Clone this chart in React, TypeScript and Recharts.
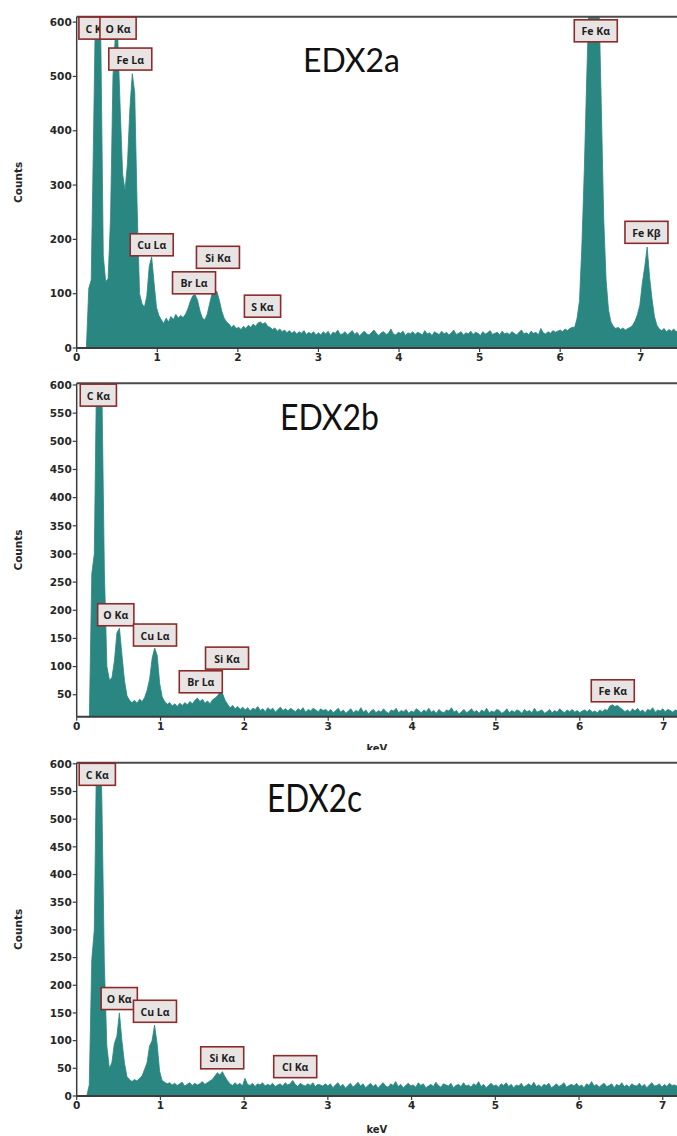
import React from 'react';
import { ComposedChart, Area, XAxis, YAxis, ReferenceLine, ReferenceDot } from 'recharts';

// Channel width of the spectra (keV); channel i sits at i * ENERGY_STEP_KEV
const ENERGY_STEP_KEV = 0.03;
const X_TICKS = [0, 1, 2, 3, 4, 5, 6, 7];

// ---------- EDX2a ----------
const COUNTS_2A = [
  0, 0, 0, 0, 0, 110, 125, 400, 700, 700,
  560, 170, 122, 128, 240, 500, 575, 570, 440, 320,
  290, 340, 440, 505, 470, 260, 100, 82, 75, 95,
  150, 168, 120, 75, 60, 52, 45, 55, 48, 58,
  52, 62, 55, 60, 56, 62, 72, 86, 96, 98,
  88, 68, 55, 52, 62, 82, 100, 106, 104, 88,
  68, 55, 48, 44, 38, 42, 36, 38, 34, 40,
  36, 42, 38, 44, 40, 46, 48, 44, 47, 40,
  38, 34, 37, 31, 35, 30, 33, 28, 32, 27,
  31, 26, 30, 27, 32, 25, 29, 26, 30, 24,
  28, 24, 30, 26, 31, 23, 29, 27, 33, 25,
  26, 30, 24, 28, 32, 25, 29, 22, 27, 31,
  26, 24, 29, 33, 27, 23, 28, 30, 25, 27,
  35, 26, 24, 29, 27, 31, 23, 28, 26, 30,
  25, 29, 27, 24, 32, 26, 28, 23, 30, 27,
  25, 31, 26, 29, 24, 28, 33, 25, 27, 30,
  24, 28, 26, 31, 25, 29, 27, 23, 30, 26,
  28, 32, 25, 27, 29, 24, 31, 26, 28, 25,
  30, 27, 24, 29, 33, 26, 28, 25, 31, 27,
  29, 24, 36, 28, 26, 30, 27, 32, 29, 31,
  33, 30, 35, 32, 36, 38,
  38, 55, 87, 190, 330, 500, 650, 720, 720, 700,
  650, 450, 240, 125, 70, 48, 40, 36, 38, 34,
  37, 33, 36, 38, 42, 50, 62, 80, 120, 150,
  186, 130, 90, 58, 42, 35, 32, 36, 30, 34,
  31, 35, 30, 33,
];
const Y_TICKS_2A = [0, 100, 200, 300, 400, 500, 600];
const TAGS_2A = ['C Kα', 'O Kα', 'Fe Lα', 'Cu Lα', 'Br Lα', 'Si Kα', 'S Kα', 'Fe Kα', 'Fe Kβ'];
const TAG_ENERGY_2A = [0.252, 0.513, 0.665, 0.931, 1.456, 1.753, 2.306, 6.442, 7.071];
const TAG_LEVEL_2A = [589, 589, 532, 190, 120, 167, 77, 584, 213];

// ---------- EDX2b ----------
const COUNTS_2B = [
  0, 0, 0, 0, 0, 0, 265, 300, 660, 680,
  600, 270, 100, 76, 80, 110, 160, 168, 120, 75,
  48, 40, 36, 40, 35, 42, 38, 45, 58, 78,
  115, 133, 120, 70, 46, 38, 33, 36, 30, 34,
  29, 35, 31, 36, 32, 38, 34, 40, 44, 38,
  42, 35, 39, 34, 41, 44, 48, 55, 52, 40,
  33, 27, 31, 25, 29, 24, 28,
  23, 27, 21, 26, 24, 29, 22, 25, 20, 27,
  23, 26, 19, 24, 28, 22, 25, 21, 26, 23,
  20, 25, 22, 27, 19, 24, 21, 26, 23, 20,
  25, 22, 24,
  20, 24, 18, 22, 26, 19, 23, 17, 21, 25,
  18, 22, 20, 27, 19, 23, 16, 21, 24, 18,
  22, 19, 25, 20, 17, 23, 21, 26, 18, 22,
  20, 24, 17, 21, 19, 25, 22, 18, 23, 20,
  26, 19, 22, 17, 24, 20, 18, 23, 21, 27,
  19, 22, 16, 20, 24, 18, 21, 25, 19, 22,
  17, 23, 20, 26, 18, 21, 19, 24, 22, 17,
  20, 25, 18, 22, 19, 23, 21, 17, 24, 20,
  22, 18, 26, 19, 21, 23, 17, 20, 24, 18,
  22, 19, 25, 21, 18, 23, 20, 24, 19, 22,
  18, 21, 23, 20, 24, 19,
  21, 18, 23, 20, 24, 22, 30, 32, 29, 31,
  27, 24, 20, 23, 19, 25, 21, 26, 20, 23,
  18, 24, 22, 27, 19, 23, 21, 25, 20, 24,
  22, 19, 23, 21,
];
const Y_TICKS_2B = [50, 100, 150, 200, 250, 300, 350, 400, 450, 500, 550, 600];
const TAGS_2B = ['C Kα', 'O Kα', 'Cu Lα', 'Br Lα', 'Si Kα', 'Fe Kα'];
const TAG_ENERGY_2B = [0.258, 0.466, 0.934, 1.48, 1.793, 6.394];
const TAG_LEVEL_2B = [582, 192, 156, 73, 115, 57];

// ---------- EDX2c ----------
const COUNTS_2C = [
  0, 0, 0, 0, 0, 20, 246, 300, 660, 660,
  540, 240, 90, 50, 60, 95, 108, 150, 100, 60,
  35, 30, 26, 30, 27, 32, 36, 48, 60, 90,
  100, 128, 95, 45,
  28, 25, 22, 24, 20, 23, 19, 22, 25, 18, 21, 24, 19, 23, 20, 22, 26, 21, 24, 27, 30,
  36, 42, 38, 44, 35, 28,
  22, 19, 24, 20, 23, 18, 32, 21, 19, 23,
  17, 22, 20, 24, 18, 21, 19, 23, 17, 20,
  22, 18, 24, 20, 22, 28, 21, 17, 23, 20,
  18, 22, 19, 24, 17, 21, 20, 18, 22,
  18, 22, 15, 20, 24, 17, 21, 14, 19, 23,
  16, 20, 25, 18, 22, 15, 19, 23, 17, 21,
  14, 20, 24, 18, 16, 22, 19, 26, 17, 21,
  15, 19, 23, 18, 20, 16, 24, 19, 22, 15,
  18, 21, 17, 25, 19, 16, 22, 20, 18, 23,
  15, 19, 21, 17, 24, 18, 20, 16, 22, 19,
  26, 17, 21, 15, 19, 23, 18, 20, 16, 22,
  19, 24, 17, 21, 15, 20, 18, 23, 16, 19,
  22, 18, 25, 17, 20, 16, 21, 19, 23, 15,
  18, 22, 17, 20, 24, 16, 19, 21, 18, 23,
  17, 20, 15, 22, 19, 26, 18, 21, 16, 20,
  23, 17, 19, 22, 15, 21, 18, 24, 17, 20,
  16, 22, 19, 18, 23, 17, 21, 15, 20, 24,
  18, 19, 22, 16, 21, 17, 23, 19, 20, 18,
];
const Y_TICKS_2C = [0, 50, 100, 150, 200, 250, 300, 350, 400, 450, 500, 550, 600];
const TAGS_2C = ['C Kα', 'O Kα', 'Cu Lα', 'Si Kα', 'Cl Kα'];
const TAG_ENERGY_2C = [0.246, 0.508, 0.935, 1.738, 2.61];
const TAG_LEVEL_2C = [581, 176, 153, 69, 53];

const TITLES = ['EDX2a', 'EDX2b', 'EDX2c'];

// ---------- styling ----------
const TEAL = '#2a8680';
const AXIS = '#3c3c3c';
const TICK_STYLE = { fill: '#262626', fontSize: 10.5, fontWeight: 700, fontFamily: 'DejaVu Sans' };

const PeakTag = (props: any) => {
  const { cx, cy, tag } = props;
  if (cx == null || cy == null) return null;
  const w = 9 + tag.length * 6.8;
  return (
    <g>
      <rect x={cx - w / 2} y={cy - 11} width={w} height={22} fill="#e8e4e4" stroke="#8c2b2b" strokeWidth={1.6} />
      <text
        x={cx}
        y={cy + 0.5}
        textAnchor="middle"
        dominantBaseline="central"
        fontFamily="Open Sans"
        fontWeight={700}
        fontSize={10.5}
        fill="#1e1e1e"
      >
        {tag}
      </text>
    </g>
  );
};

type PanelProps = {
  counts: number[];
  xMax: number;
  yDomain: [number, number];
  yTicks: number[];
  tags: string[];
  tagEnergy: number[];
  tagLevel: number[];
  height: number;
  plotTop: number;
  plotBottom: number;
  kevOffset?: number;
};

function Spectrum(p: PanelProps) {
  const data = p.counts.map((c, i) => ({ energy: +(i * ENERGY_STEP_KEV).toFixed(3), counts: c }));
  return (
    <ComposedChart
      width={677}
      height={p.height}
      data={data}
      margin={{ top: p.plotTop, right: 0, bottom: 0, left: 0 }}
    >
      <XAxis
        dataKey="energy"
        type="number"
        domain={[0, p.xMax]}
        allowDataOverflow
        ticks={X_TICKS}
        interval={0}
        height={p.height - p.plotBottom}
        tickSize={4}
        tickMargin={2}
        tick={TICK_STYLE}
        axisLine={{ stroke: AXIS, strokeWidth: 2 }}
        tickLine={{ stroke: AXIS, strokeWidth: 1.2 }}
        label={
          p.kevOffset != null
            ? { value: 'keV', position: 'insideBottom', offset: p.kevOffset, style: { ...TICK_STYLE, fontSize: 10 } }
            : undefined
        }
      />
      <YAxis
        type="number"
        domain={p.yDomain}
        allowDataOverflow
        ticks={p.yTicks}
        interval={0}
        width={76.7}
        tickSize={4}
        tickMargin={1}
        tick={TICK_STYLE}
        axisLine={{ stroke: AXIS, strokeWidth: 1.5 }}
        tickLine={{ stroke: AXIS, strokeWidth: 1.2 }}
        label={{
          value: 'Counts',
          angle: -90,
          position: 'insideLeft',
          offset: 18,
          style: { textAnchor: 'middle', fill: '#262626', fontSize: 10.5, fontWeight: 700, fontFamily: 'DejaVu Sans' },
        }}
      />
      <ReferenceLine y={p.yDomain[1]} stroke="#4a4a4a" strokeWidth={2} />
      <Area
        type="linear"
        dataKey="counts"
        stroke={TEAL}
        strokeWidth={0.8}
        fill={TEAL}
        fillOpacity={1}
        dot={false}
        activeDot={false}
        isAnimationActive={false}
      />
      {p.tags.map((t, i) => (
        <ReferenceDot
          key={t + i}
          x={p.tagEnergy[i]}
          y={p.tagLevel[i]}
          r={0}
          ifOverflow="visible"
          shape={(sp: any) => <PeakTag {...sp} tag={t} />}
        />
      ))}
    </ComposedChart>
  );
}

export default function App() {
  return (
    <div style={{ position: 'absolute', left: 0, top: 0, width: 677, height: 1136, background: '#fff', overflow: 'hidden' }}>
      <div style={{ position: 'absolute', left: 0, top: 0, background: '#fff' }}>
        <Spectrum
          counts={COUNTS_2A}
          xMax={7.45}
          yDomain={[0, 610]}
          yTicks={Y_TICKS_2A}
          tags={TAGS_2A}
          tagEnergy={TAG_ENERGY_2A}
          tagLevel={TAG_LEVEL_2A}
          height={368}
          plotTop={16.7}
          plotBottom={348}
        />
      </div>
      <div style={{ position: 'absolute', left: 0, top: 368, background: '#fff' }}>
        <Spectrum
          counts={COUNTS_2B}
          xMax={7.16}
          yDomain={[11, 603]}
          yTicks={Y_TICKS_2B}
          tags={TAGS_2B}
          tagEnergy={TAG_ENERGY_2B}
          tagLevel={TAG_LEVEL_2B}
          height={388}
          plotTop={15.3}
          plotBottom={348.7}
          kevOffset={4}
        />
      </div>
      <div style={{ position: 'absolute', left: 0, top: 750, background: '#fff' }}>
        <Spectrum
          counts={COUNTS_2C}
          xMax={7.17}
          yDomain={[0, 602]}
          yTicks={Y_TICKS_2C}
          tags={TAGS_2C}
          tagEnergy={TAG_ENERGY_2C}
          tagLevel={TAG_LEVEL_2C}
          height={386}
          plotTop={12.7}
          plotBottom={346}
          kevOffset={3}
        />
      </div>
      <svg
        width={677}
        height={1136}
        style={{ position: 'absolute', left: 0, top: 0, pointerEvents: 'none' }}
      >
        <text x={303} y={72} fontFamily="Lato" fontSize={32} fill="#111" textLength={97} lengthAdjust="spacingAndGlyphs">
          {TITLES[0]}
        </text>
        <text x={280} y={430} fontFamily="Lato" fontSize={36} fill="#111" textLength={99} lengthAdjust="spacingAndGlyphs">
          {TITLES[1]}
        </text>
        <text x={267} y={811.5} fontFamily="Lato" fontSize={39} fill="#111" textLength={95} lengthAdjust="spacingAndGlyphs">
          {TITLES[2]}
        </text>
      </svg>
    </div>
  );
}
